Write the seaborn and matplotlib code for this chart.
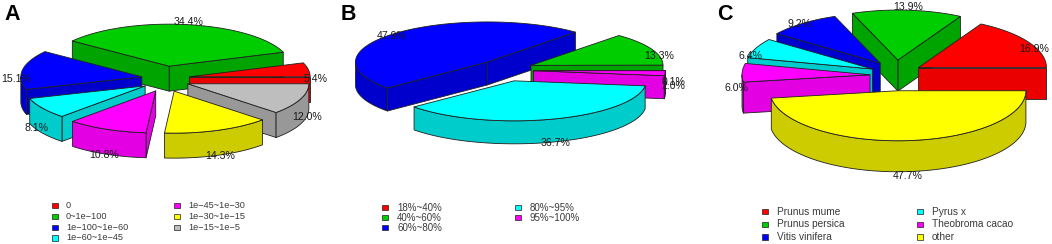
import numpy as np
import matplotlib
matplotlib.use("Agg")
import matplotlib.pyplot as plt
from matplotlib.patches import Polygon, Rectangle
import seaborn as sns

sns.set_theme(style="white")
plt.rcParams['font.family'] = ['Liberation Sans', 'DejaVu Sans']

# ---- data ----
a_labels = ["0", "0~1e\u2212100", "1e\u2212100~1e\u221260", "1e\u221260~1e\u221245",
            "1e\u221245~1e\u221230", "1e\u221230~1e\u221215", "1e\u221215~1e\u22125"]
a_values = [5.4, 34.4, 15.1, 8.1, 10.8, 14.3, 12.0]
b_labels = ["18%~40%", "40%~60%", "60%~80%", "80%~95%", "95%~100%"]
b_values = [0.1, 13.3, 47.9, 36.7, 2.0]
c_labels = ["Prunus mume", "Prunus persica", "Vitis vinifera", "Pyrus x",
            "Theobroma cacao", "other"]
c_values = [16.9, 13.9, 9.2, 6.4, 6.0, 47.7]

a_colors = sns.color_palette(["#ff0000", "#00cd00", "#0000ff", "#00ffff",
                              "#ff00ff", "#ffff00", "#bebebe"])
b_colors = sns.color_palette(["#ff0000", "#00cd00", "#0000ff", "#00ffff", "#ff00ff"])
c_colors = sns.color_palette(["#ff0000", "#00cd00", "#0000ff", "#00ffff", "#ff00ff", "#ffff00"])

W, H = 1052, 244
fig = plt.figure(figsize=(W / 100, H / 100), dpi=100)


def side_colour(top):
    """Wall colour: red and magenta walls stay lighter than the other hues."""
    top = np.array(top)
    if top[0] > 0.99 and top[1] < 0.01:
        return tuple(top * (0.92 if top[2] < 0.01 else 0.89))
    return tuple(top * 0.8)


def pie3d(ax, values, colors, cx, cy, rx, ry, h, d, dk, lab):
    values = np.asarray(values, float)
    edges = np.deg2rad(np.r_[0, np.cumsum(values)] / values.sum() * 360)
    mids = (edges[:-1] + edges[1:]) / 2
    order = np.argsort(-np.sin(mids))
    line = dict(edgecolor="#202020", linewidth=0.6, joinstyle="round")
    for i in order:
        a0, a1, m = edges[i], edges[i + 1], mids[i]
        ox, oy = cx + d * np.cos(m), cy - dk * np.sin(m)
        top = colors[i]
        side = side_colour(top)
        ang = np.linspace(a0, a1, 120)
        arc = np.c_[ox + rx * np.cos(ang), oy - ry * np.sin(ang)]
        # radial side walls facing the viewer
        for a, show in ((a0, np.cos(a0) > 1e-6), (a1, np.cos(a1) < -1e-6)):
            if show:
                p = (ox + rx * np.cos(a), oy - ry * np.sin(a))
                ax.add_patch(Polygon([(ox, oy), p, (p[0], p[1] + h), (ox, oy + h)],
                                     facecolor=side, zorder=5, **line))
        # outer curved wall: the front half only
        low = np.sin(ang) < 0
        if low.any():
            seg = arc[low]
            ax.add_patch(Polygon(np.r_[seg, seg[::-1] + [0, h]],
                                 facecolor=side, zorder=5, **line))
        ax.add_patch(Polygon(np.r_[[(ox, oy)], arc], facecolor=top, zorder=5, **line))
    lx, ly, lrx, lry = lab
    for v, m in zip(values, mids):
        ax.text(lx + lrx * np.cos(m), ly - lry * np.sin(m), f"{v:.1f}%",
                ha="center", va="center", fontsize=7.6, color="#1a1a1a", zorder=10)


def legend(ax, columns, size):
    for (names, cols, sx, tx, ys) in columns:
        for name, col, y in zip(names, cols, ys):
            ax.add_patch(Rectangle((sx, y - 2.7), 6.2, 5.4, facecolor=col,
                                   edgecolor="#202020", linewidth=0.5))
            ax.text(tx, y, name, ha="left", va="center", fontsize=size, color="#3a3a3a")


def panel(x0, x1, letter, lx):
    ax = fig.add_axes([x0 / W, 0, (x1 - x0) / W, 1])
    ax.set_xlim(x0, x1)
    ax.set_ylim(H, 0)
    ax.axis("off")
    ax.text(lx, 14, letter, fontsize=15.5, fontweight="bold", color="black",
            ha="center", va="center")
    return ax


axA = panel(0, 340, "A", 12)
pie3d(axA, a_values, a_colors, 165.5, 79, 121, 42, 25, 24, 13, (165.5, 91, 152, 70))
legend(axA,
       [(a_labels[:4], a_colors[:4], 52, 66, [205.5, 216.4, 227.3, 238]),
        (a_labels[4:], a_colors[4:], 174, 188, [205.5, 216.4, 227.3])], 6.6)

axB = panel(340, 680, "B", 348)
pie3d(axB, b_values, b_colors, 506.4, 70, 132, 40, 23, 27, 11.3, (508, 82, 166, 64))
legend(axB,
       [(b_labels[:3], b_colors[:3], 381.8, 397.3, [207.7, 217.7, 227.7]),
        (b_labels[3:], b_colors[3:], 515.2, 530, [207.7, 217.7])], 7.0)

axC = panel(680, 1052, "C", 725)
pie3d(axC, c_values, c_colors, 896, 75.4, 128, 50, 31, 26, 15.4, (896, 91.5, 160, 84.5))
legend(axC,
       [(c_labels[:3], c_colors[:3], 762, 777.3, [211.7, 224.3, 237]),
        (c_labels[3:], c_colors[3:], 917, 931.7, [211.7, 224.3, 237])], 7.3)

fig.savefig("out.png", dpi=100, facecolor="white")
